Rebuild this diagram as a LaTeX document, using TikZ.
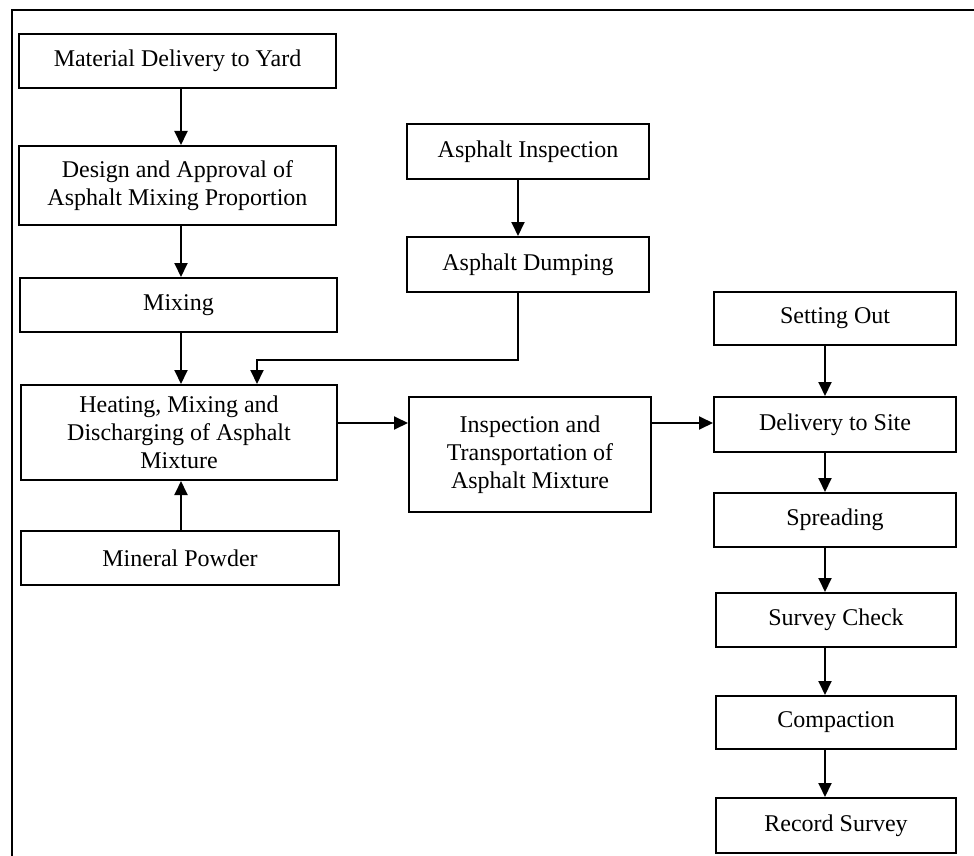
\documentclass[tikz,border=0pt]{standalone}
\usepackage{fontspec}
\setmainfont{Liberation Serif}
\usetikzlibrary{arrows.meta}
\begin{document}
\begin{tikzpicture}[x=1pt,y=-1pt,
  box/.style={draw, line width=2pt, inner sep=0pt, align=center, font=\fontsize{24}{28}\selectfont},
  arr/.style={line width=1.9pt, -{Triangle[length=14pt,width=13pt]}},
  frame/.style={line width=2.6pt}]
\useasboundingbox (0,0) rectangle (974,856);
\fill[white] (0,0) rectangle (974,856);
\coordinate (fa) at (12,856);
\coordinate (fb) at (12,10);
\coordinate (fc) at (974,10);
\draw[frame] (fa) -- (fb) -- (fc);

\node[box, minimum width=317pt, minimum height=54pt] (b1) at (177.5,61) {Material Delivery to Yard};
\node[box, minimum width=317pt, minimum height=79pt] (b2) at (177.5,185.5) {Design and Approval of\\Asphalt Mixing Proportion};
\node[box, minimum width=317pt, minimum height=54pt] (b3) at (178.5,305) {Mixing};
\node[box, minimum width=316pt, minimum height=95pt] (b4) at (179,432.5) {Heating, Mixing and\\Discharging of Asphalt\\Mixture};
\node[box, minimum width=318pt, minimum height=54pt] (b5) at (180,558) {Mineral Powder};
\node[box, minimum width=242pt, minimum height=55pt] (b6) at (528,151.5) {Asphalt Inspection};
\node[box, minimum width=242pt, minimum height=55pt] (b7) at (528,264.5) {Asphalt Dumping};
\node[box, minimum width=242pt, minimum height=115pt] (b8) at (530,454.5) {Inspection and\\Transportation of\\Asphalt Mixture};
\node[box, minimum width=242pt, minimum height=53pt] (b9) at (835,318.5) {Setting Out};
\node[box, minimum width=242pt, minimum height=55pt] (b10) at (835,424.5) {Delivery to Site};
\node[box, minimum width=242pt, minimum height=54pt] (b11) at (835,520) {Spreading};
\node[box, minimum width=240pt, minimum height=54pt] (b12) at (836,620) {Survey Check};
\node[box, minimum width=240pt, minimum height=53pt] (b13) at (836,722.5) {Compaction};
\node[box, minimum width=240pt, minimum height=55pt] (b14) at (836,825.5) {Record Survey};

\coordinate (cl) at (181,0);
\coordinate (cm) at (518,0);
\coordinate (cr) at (825,0);
\coordinate (cj) at (257,0);
\coordinate (row) at (0,423);
\coordinate (jy) at (0,360);

\draw[arr] (b1.south -| cl) -- (b2.north -| cl);
\draw[arr] (b2.south -| cl) -- (b3.north -| cl);
\draw[arr] (b3.south -| cl) -- (b4.north -| cl);
\draw[arr] (b5.north -| cl) -- (b4.south -| cl);
\draw[arr] (b6.south -| cm) -- (b7.north -| cm);
\draw[arr] (b7.south -| cm) -- (jy -| cm) -- (jy -| cj) -- (b4.north -| cj);
\draw[arr] (b4.east |- row) -- (b8.west |- row);
\draw[arr] (b8.east |- row) -- (b10.west |- row);
\draw[arr] (b9.south -| cr) -- (b10.north -| cr);
\draw[arr] (b10.south -| cr) -- (b11.north -| cr);
\draw[arr] (b11.south -| cr) -- (b12.north -| cr);
\draw[arr] (b12.south -| cr) -- (b13.north -| cr);
\draw[arr] (b13.south -| cr) -- (b14.north -| cr);
\end{tikzpicture}
\end{document}
